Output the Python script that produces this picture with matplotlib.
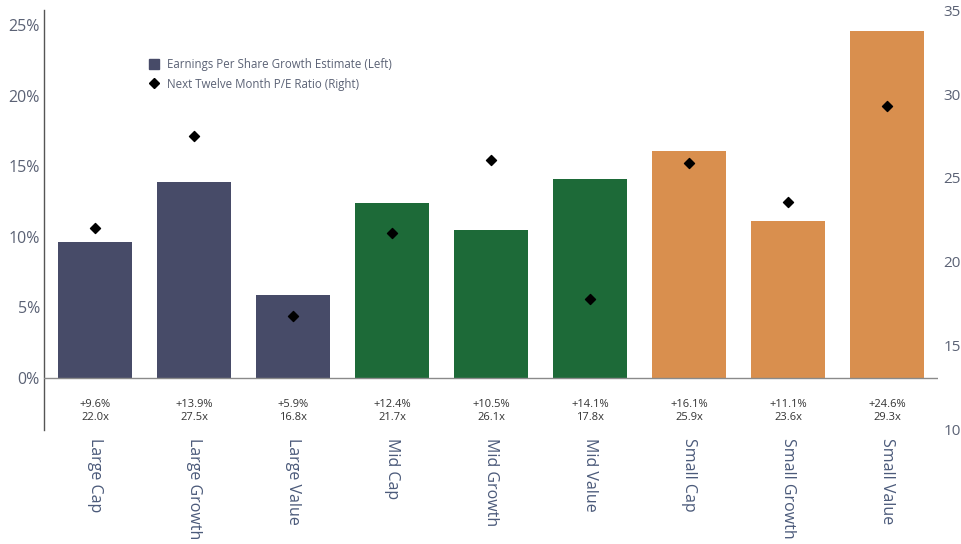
import matplotlib
matplotlib.use("Agg")
import matplotlib.pyplot as plt
from matplotlib.lines import Line2D

categories = ["Large Cap", "Large Growth", "Large Value", "Mid Cap", "Mid Growth",
              "Mid Value", "Small Cap", "Small Growth", "Small Value"]
eps_growth = [9.6, 13.9, 5.9, 12.4, 10.5, 14.1, 16.1, 11.1, 24.6]
pe_ratio = [22.0, 27.5, 16.8, 21.7, 26.1, 17.8, 25.9, 23.6, 29.3]
groups = ["large", "large", "large", "mid", "mid", "mid", "small", "small", "small"]
group_colors = {"large": "#474b68", "mid": "#1d6a38", "small": "#d98f4e"}
left_ticks = [0, 5, 10, 15, 20, 25]
right_ticks = [10, 15, 20, 25, 30, 35]

plt.rcParams['font.family'] = ['Open Sans', 'DejaVu Sans']
text_gray = "#5b6275"
cat_color = "#4b5a7a"

fig = plt.figure(figsize=(9.62, 5.44), dpi=100)
ax = fig.add_axes([0.0457, 0.2096, 0.9293, 0.772])
ax2 = ax.twinx()

x = list(range(len(categories)))
colors = [group_colors[g] for g in groups]
ax.bar(x, eps_growth, width=0.75, color=colors, zorder=2)
ax.axhline(0, color="#8a8a8a", lw=1.0, zorder=3)

ax.set_xlim(-0.515, 8.515)
ax.set_ylim(-3.68, 26.06)
ax.set_yticks(left_ticks)
ax.set_yticklabels([f"{t}%" for t in left_ticks])
ax.set_xticks(x)
ax.set_xticklabels(categories, rotation=-90, ha="center", va="top",
                   fontsize=11.5, color=cat_color)
ax.tick_params(axis="x", length=0, pad=6)
ax.tick_params(axis="y", length=0, pad=3, labelsize=11.5, labelcolor=text_gray)
for s in ["top", "right", "bottom"]:
    ax.spines[s].set_visible(False)
ax.spines["left"].set_color("#555555")
ax.spines["left"].set_linewidth(1.0)

ax2.scatter(x, pe_ratio, marker="D", s=26, color="black", zorder=5)
ax2.set_ylim(10, 35)
ax2.set_yticks(right_ticks)
ax2.tick_params(axis="y", length=0, pad=4, labelsize=11, labelcolor=text_gray)
for s in ["top", "right", "bottom", "left"]:
    ax2.spines[s].set_visible(False)

for i in x:
    ax.text(i, -1.5, f"+{eps_growth[i]:.1f}%\n{pe_ratio[i]:.1f}x", ha="center", va="top",
            fontsize=8, color="#333333", linespacing=1.2)

handles = [Line2D([0], [0], marker="s", ls="none", color=group_colors["large"], markersize=6.5),
           Line2D([0], [0], marker="D", ls="none", color="black", markersize=5.5)]
ax.legend(handles, ["Earnings Per Share Growth Estimate (Left)", "Next Twelve Month P/E Ratio (Right)"],
          loc="upper left", bbox_to_anchor=(0.105, 0.91), frameon=False, fontsize=8.3,
          labelcolor=text_gray, handletextpad=0.6, labelspacing=0.55, handlelength=1.0)

fig.savefig("out.png", dpi=100)
